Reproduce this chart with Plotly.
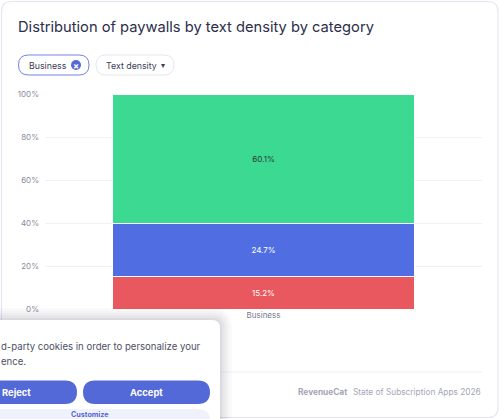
import plotly.graph_objects as go

# ---- data ----
categories = ["Business"]
series_names = ["Low text density", "Medium text density", "High text density"]
series_values = [[15.2], [24.7], [60.1]]
series_colors = ["#E9585F", "#506EE2", "#3BD991"]
label_colors = ["#ffffff", "#ffffff", "#2b3b3a"]
y_ticks = [0, 20, 40, 60, 80, 100]
y_tick_labels = ["0%", "20%", "40%", "60%", "80%", "100%"]

W, H = 500, 419
L, R, T, B = 45, 482, 94, 309

def px(x):
    return (x - L) / (R - L)

def py(y):
    return (B - y) / (B - T)

def rr(x0, y0, x1, y1, r):
    def p(x, y):
        return f"{px(x):.5f},{py(y):.5f}"
    s = (f"M {p(x0 + r, y0)} L {p(x1 - r, y0)} Q {p(x1, y0)} {p(x1, y0 + r)} "
         f"L {p(x1, y1 - r)} Q {p(x1, y1)} {p(x1 - r, y1)} "
         f"L {p(x0 + r, y1)} Q {p(x0, y1)} {p(x0, y1 - r)} "
         f"L {p(x0, y0 + r)} Q {p(x0, y0)} {p(x0 + r, y0)} Z")
    return s

fig = go.Figure()
for name, vals, col, lc in zip(series_names, series_values, series_colors, label_colors):
    fig.add_trace(go.Bar(
        x=categories, y=vals, name=name,
        marker=dict(color=col, line=dict(color="#ffffff", width=1)),
        text=[f"{v:.1f}%" for v in vals], textposition="inside",
        insidetextanchor="middle", textangle=0,
        textfont=dict(color=lc, size=8, family="Inter"),
        hoverinfo="skip",
    ))

shapes = []
# card
shapes.append(dict(type="path", path=rr(1.5, 1.5, 498, 417.5, 10), xref="paper", yref="paper",
                   line=dict(color="#e4e6f6", width=1.2), fillcolor="rgba(0,0,0,0)", layer="below"))
# chips
shapes.append(dict(type="path", path=rr(18.5, 55, 89, 75, 10), xref="paper", yref="paper",
                   line=dict(color="#7083e6", width=1), fillcolor="#ffffff", layer="below"))
shapes.append(dict(type="path", path=rr(96, 55, 174, 75, 10), xref="paper", yref="paper",
                   line=dict(color="#e6e7ee", width=1), fillcolor="#ffffff", layer="below"))
shapes.append(dict(type="circle", xref="paper", yref="paper",
                   x0=px(71), x1=px(81), y0=py(70), y1=py(60),
                   line=dict(width=0), fillcolor="#5468D8", layer="below"))
# footer divider
shapes.append(dict(type="line", xref="paper", yref="paper", x0=px(18), x1=px(482),
                   y0=py(372), y1=py(372), line=dict(color="#f1f1f6", width=1), layer="below"))
# cookie banner shadow
for i, a in enumerate([0.025, 0.03, 0.035, 0.045, 0.06]):
    d = 12 - i * 2.5
    shapes.append(dict(type="path", path=rr(-20, 320 - d, 220 + d, 440, 8 + d), xref="paper", yref="paper",
                       line=dict(width=0), fillcolor=f"rgba(60,60,80,{a})", layer="above"))
# banner body
shapes.append(dict(type="path", path=rr(-20, 320, 220, 440, 8), xref="paper", yref="paper",
                   line=dict(width=0), fillcolor="#ffffff", layer="above"))
# buttons
shapes.append(dict(type="path", path=rr(-30, 380.5, 77, 404, 12), xref="paper", yref="paper",
                   line=dict(width=0), fillcolor="#5469D8", layer="above"))
shapes.append(dict(type="path", path=rr(83, 380.5, 210, 404, 12), xref="paper", yref="paper",
                   line=dict(width=0), fillcolor="#5469D8", layer="above"))
shapes.append(dict(type="path", path=rr(-30, 409, 210, 440, 12), xref="paper", yref="paper",
                   line=dict(width=0), fillcolor="#eff1fd", layer="above"))

ann = []
def text(x, y, s, size, color, xanchor="left", family="Inter", weight=None):
    f = dict(size=size, color=color, family=family)
    if weight:
        f["weight"] = weight
    ann.append(dict(x=px(x), y=py(y), xref="paper", yref="paper", text=s, showarrow=False,
                    xanchor=xanchor, yanchor="middle", font=f))

text(15.5, 27, "Distribution of paywalls by text density by category", 14.7, "#2c2e4b")
text(27, 65, "Business", 8.8, "#3b3d55")
text(76, 65, "×", 9, "#ffffff", xanchor="center", weight="bold")
text(104, 65, "Text density", 8.8, "#3b3d55")
text(163, 65.5, "▾", 8, "#3b3d55", xanchor="center")
text(349, 392, "<b>RevenueCat</b>", 8.3, "#a3a5b6", xanchor="right")
text(483, 392, "State of Subscription Apps 2026", 8.3, "#a3a5b6", xanchor="right")
# cookie banner text
text(-1, 346, "d-party cookies in order to personalize your", 9.6, "#4d4f66")
text(-1, 361, "ence.", 9.6, "#4d4f66")
text(0, 392, "<b>Reject</b>", 9.4, "#ffffff")
text(146.5, 392, "<b>Accept</b>", 9.4, "#ffffff", xanchor="center")
text(90, 414, "<b>Customize</b>", 7.2, "#5469D8", xanchor="center")

fig.update_layout(
    width=W, height=H,
    margin=dict(l=L, r=W - R, t=T, b=H - B, pad=0),
    barmode="stack", bargap=0.31,
    showlegend=False,
    paper_bgcolor="#ffffff", plot_bgcolor="#ffffff",
    font=dict(family="Inter", size=8, color="#8a8ca0"),
    shapes=shapes, annotations=ann,
    uniformtext=dict(minsize=6, mode="show"),
)
fig.update_yaxes(range=[0, 100], tickmode="array", tickvals=y_ticks, ticktext=y_tick_labels,
                 showgrid=True, gridcolor="#f1f1f4", gridwidth=1, zeroline=False,
                 ticks="", ticklabelstandoff=5, tickfont=dict(size=8, color="#8a8ca0"),
                 fixedrange=True)
fig.update_xaxes(showgrid=False, zeroline=False, showline=False, ticks="",
                 tickfont=dict(size=8, color="#77798c"), fixedrange=True)

fig.write_html("out.html", config={"displayModeBar": False})
